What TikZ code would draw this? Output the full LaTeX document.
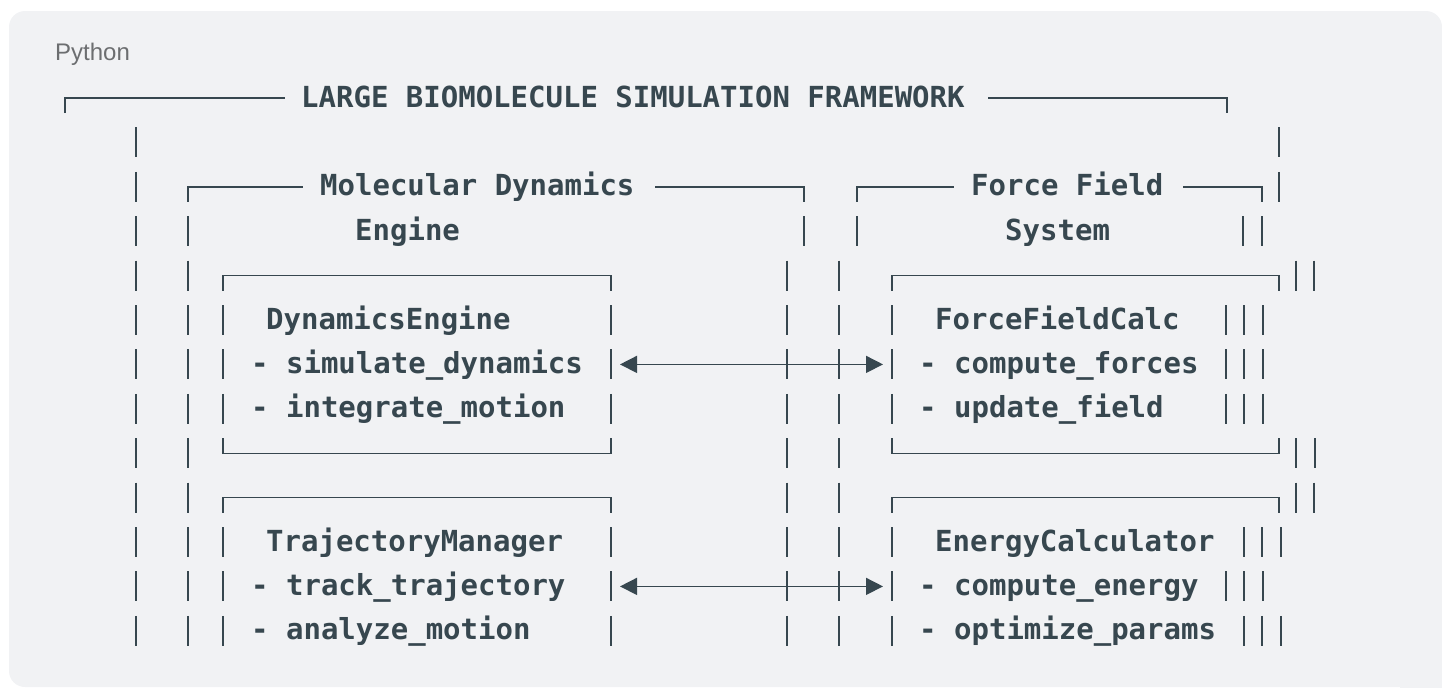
\documentclass[tikz,border=0pt]{standalone}
\usepackage{fontspec}
\setmainfont{Liberation Sans}
\newfontfamily\codefont{DejaVu Sans Mono}
\usetikzlibrary{arrows.meta,positioning}
\definecolor{PanelGray}{RGB}{241,242,244}
\definecolor{InkSlate}{RGB}{55,71,79}
\definecolor{TagGray}{RGB}{108,110,112}

% 行中心
\newcommand{\rowc}[1]{(98+(#1-1)*44.4)}
% 一行里的竖线
\newcommand{\vbars}[2]{\foreach \bx in {#1} {\draw[bar] (\bx,{\rowc{#2}-15}) -- (\bx,{\rowc{#2}+15});}}

\begin{document}
\begin{tikzpicture}[x=1pt,y=-1pt,
	code/.style={anchor=base west,inner sep=0pt,text=InkSlate,font=\codefont\bfseries\fontsize{29}{29}\selectfont},
	bar/.style={InkSlate,line width=1.6pt},
	rule/.style={InkSlate,line width=1.4pt},
	link/.style={InkSlate,line width=1.5pt,{Triangle[length=17pt,width=17pt]}-{Triangle[length=17pt,width=17pt]}}]
	\useasboundingbox (0,0) rectangle (1442,688);
	
	% 背景
	\fill[PanelGray,rounded corners=16pt] (9,11) rectangle (1442,687);
	\fill[PanelGray] (1400,620) rectangle (1442,688);
	\node[anchor=base west,inner sep=0pt,text=TagGray,font=\fontsize{24}{24}\selectfont] (lang) at (55,60) {Python};
	
	% 标题行
	\node[code] (title) at (301,{\rowc{1}+9}) {LARGE BIOMOLECULE SIMULATION FRAMEWORK};
	\draw[rule] (65,{\rowc{1}+15}) -- (65,{\rowc{1}}) -- (285,{\rowc{1}});
	\draw[rule] (988,{\rowc{1}}) -- (1227,{\rowc{1}}) -- (1227,{\rowc{1}+15});
	
	% 两个子系统的标题
	\node[code] (mdTitle) at (320,{\rowc{3}+9}) {Molecular Dynamics};
	\node[code] (mdSub) at (355,{\rowc{4}+9}) {Engine};
	\node[code] (ffTitle) at (971,{\rowc{3}+9}) {Force Field};
	\node[code] (ffSub) at (1005,{\rowc{4}+9}) {System};
	\draw[rule] (188,{\rowc{3}+15}) -- (188,{\rowc{3}}) -- (303,{\rowc{3}});
	\draw[rule] (655,{\rowc{3}}) -- (804,{\rowc{3}}) -- (804,{\rowc{3}+15});
	\draw[rule] (857,{\rowc{3}+15}) -- (857,{\rowc{3}}) -- (954,{\rowc{3}});
	\draw[rule] (1183,{\rowc{3}}) -- (1262,{\rowc{3}}) -- (1262,{\rowc{3}+15});
	
	% 小方框的上下边
	\foreach \r in {5,10} {
		\draw[rule] (223,{\rowc{\r}+15}) -- (223,{\rowc{\r}}) -- (611,{\rowc{\r}}) -- (611,{\rowc{\r}+15});
		\draw[rule] (892,{\rowc{\r}+15}) -- (892,{\rowc{\r}}) -- (1279,{\rowc{\r}}) -- (1279,{\rowc{\r}+15});
	}
	\draw[rule] (223,{\rowc{9}-15}) -- (223,{\rowc{9}}) -- (611,{\rowc{9}}) -- (611,{\rowc{9}-15});
	\draw[rule] (892,{\rowc{9}-15}) -- (892,{\rowc{9}}) -- (1279,{\rowc{9}}) -- (1279,{\rowc{9}-15});
	
	% 竖线
	\vbars{136,1279}{2}
	\vbars{136,1279}{3}
	\vbars{136,188,804,857,1243,1262}{4}
	\vbars{136,188,787,839,1296,1314}{5}
	\foreach \r in {6,7,8,12} {\vbars{136,188,223,611,787,839,892,1226,1244,1263}{\r}}
	\vbars{136,188,787,839,1296,1315}{9}
	\vbars{136,188,787,839,1296,1314}{10}
	\foreach \r in {11,13} {\vbars{136,188,223,611,787,839,892,1244,1262,1281}{\r}}
	
	% 方框里的文字
	\node[code] (dynName) at (266,{\rowc{6}+9}) {DynamicsEngine};
	\node[code] (dynSim) at (251,{\rowc{7}+9}) {- simulate\_dynamics};
	\node[code] (dynInt) at (251,{\rowc{8}+9}) {- integrate\_motion};
	\node[code] (trjName) at (266,{\rowc{11}+9}) {TrajectoryManager};
	\node[code] (trjTrack) at (251,{\rowc{12}+9}) {- track\_trajectory};
	\node[code] (trjAna) at (251,{\rowc{13}+9}) {- analyze\_motion};
	\node[code] (ffcName) at (935,{\rowc{6}+9}) {ForceFieldCalc};
	\node[code] (ffcComp) at (919,{\rowc{7}+9}) {- compute\_forces};
	\node[code] (ffcUpd) at (919,{\rowc{8}+9}) {- update\_field};
	\node[code] (engName) at (935,{\rowc{11}+9}) {EnergyCalculator};
	\node[code] (engComp) at (919,{\rowc{12}+9}) {- compute\_energy};
	\node[code] (engOpt) at (919,{\rowc{13}+9}) {- optimize\_params};
	
	% 双向箭头
	\coordinate (dynPort) at (620,{\rowc{7}});
	\coordinate (ffcPort) at (883,{\rowc{7}});
	\coordinate (trjPort) at (620,{\rowc{12}});
	\coordinate (engPort) at (883,{\rowc{12}});
	\draw[link] (dynPort) -- (ffcPort);
	\draw[link] (trjPort) -- (engPort);
\end{tikzpicture}
\end{document}
